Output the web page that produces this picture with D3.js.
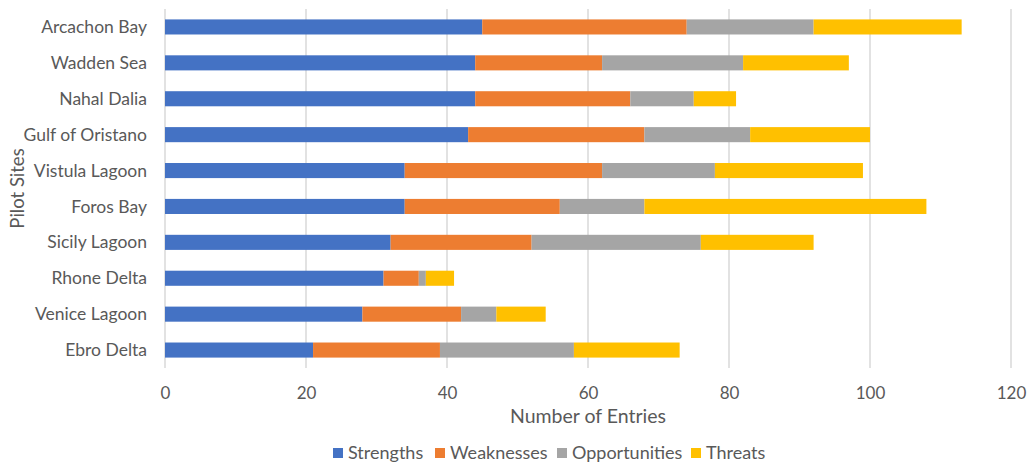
<!DOCTYPE html>
<html>
<head>
<meta charset="utf-8">
<script src="https://cdn.jsdelivr.net/npm/d3@7"></script>
<style>
  body { margin: 0; background: #fff; }
  text { font-family: Lato, "Open Sans", sans-serif; fill: #595959; }
</style>
</head>
<body>
<div id="chart"></div>
<script>
// categories, top to bottom
const sites = ["Arcachon Bay", "Wadden Sea", "Nahal Dalia", "Gulf of Oristano", "Vistula Lagoon",
  "Foros Bay", "Sicily Lagoon", "Rhone Delta", "Venice Lagoon", "Ebro Delta"];
const seriesNames = ["Strengths", "Weaknesses", "Opportunities", "Threats"];
const strengths = [45, 44, 44, 43, 34, 34, 32, 31, 28, 21];
const weaknesses = [29, 18, 22, 25, 28, 22, 20, 5, 14, 18];
const opportunities = [18, 20, 9, 15, 16, 12, 24, 1, 5, 19];
const threats = [21, 15, 6, 17, 21, 40, 16, 4, 7, 15];
const xTicks = [0, 20, 40, 60, 80, 100, 120];

const colors = ["#4472C4", "#ED7D31", "#A5A5A5", "#FFC000"];

const W = 1028, H = 463;
const plotLeft = 165, plotRight = 1011, plotTop = 9, plotBottom = 368;

const svg = d3.select("#chart").append("svg").attr("width", W).attr("height", H);

const rows = sites.map((s, i) => ({
  site: s,
  Strengths: strengths[i],
  Weaknesses: weaknesses[i],
  Opportunities: opportunities[i],
  Threats: threats[i]
}));

const stacked = d3.stack().keys(seriesNames)(rows);

const x = d3.scaleLinear().domain([0, 120]).range([plotLeft, plotRight]);
const y = d3.scaleBand().domain(sites).range([plotTop, plotBottom]).paddingInner(0.58).paddingOuter(0.29);

// gridlines
svg.append("g")
  .selectAll("line")
  .data(xTicks)
  .join("line")
  .attr("x1", d => x(d)).attr("x2", d => x(d))
  .attr("y1", plotTop).attr("y2", plotBottom)
  .attr("stroke", "#d9d9d9")
  .attr("stroke-width", 1.5);

// bars
svg.append("g")
  .selectAll("g")
  .data(stacked)
  .join("g")
  .attr("fill", (d, i) => colors[i])
  .selectAll("rect")
  .data(d => d)
  .join("rect")
  .attr("x", d => x(d[0]))
  .attr("width", d => x(d[1]) - x(d[0]))
  .attr("y", d => y(d.data.site))
  .attr("height", y.bandwidth());

// x tick labels
svg.append("g")
  .attr("class", "xaxis")
  .attr("transform", `translate(0, 393)`)
  .call(d3.axisBottom(x).tickValues(xTicks).tickSize(0).tickPadding(0))
  .call(g => g.select(".domain").remove())
  .selectAll("text")
  .attr("font-size", 17)
  .attr("dy", "0.35em")
  .attr("y", 0);

// category labels
svg.append("g")
  .attr("transform", `translate(${plotLeft - 18}, 0)`)
  .call(d3.axisLeft(y).tickSize(0).tickPadding(0))
  .call(g => g.select(".domain").remove())
  .selectAll("text")
  .attr("font-size", 17.5)
  .attr("dy", "0.35em");

svg.selectAll(".tick text").attr("fill", "#595959").style("font-family", "Lato, sans-serif");

// axis titles
svg.append("text")
  .attr("x", (plotLeft + plotRight) / 2)
  .attr("y", 416)
  .attr("text-anchor", "middle")
  .attr("dy", "0.35em")
  .attr("font-size", 19.5)
  .text("Number of Entries");

svg.append("text")
  .attr("transform", `translate(18, ${(plotTop + plotBottom) / 2}) rotate(-90)`)
  .attr("text-anchor", "middle")
  .attr("dy", "0.35em")
  .attr("font-size", 18.5)
  .text("Pilot Sites");

// legend
const legend = svg.append("g").attr("transform", "translate(0, 453)");
const legendX = [333, 435, 557, 691];
const items = legend.selectAll("g")
  .data(seriesNames)
  .join("g")
  .attr("transform", (d, i) => `translate(${legendX[i]}, 0)`);
items.append("rect")
  .attr("x", 0).attr("y", -5)
  .attr("width", 10).attr("height", 10)
  .attr("fill", (d, i) => colors[i]);
items.append("text")
  .attr("x", 15)
  .attr("dy", "0.35em")
  .attr("font-size", 18)
  .text(d => d);
</script>
</body>
</html>
